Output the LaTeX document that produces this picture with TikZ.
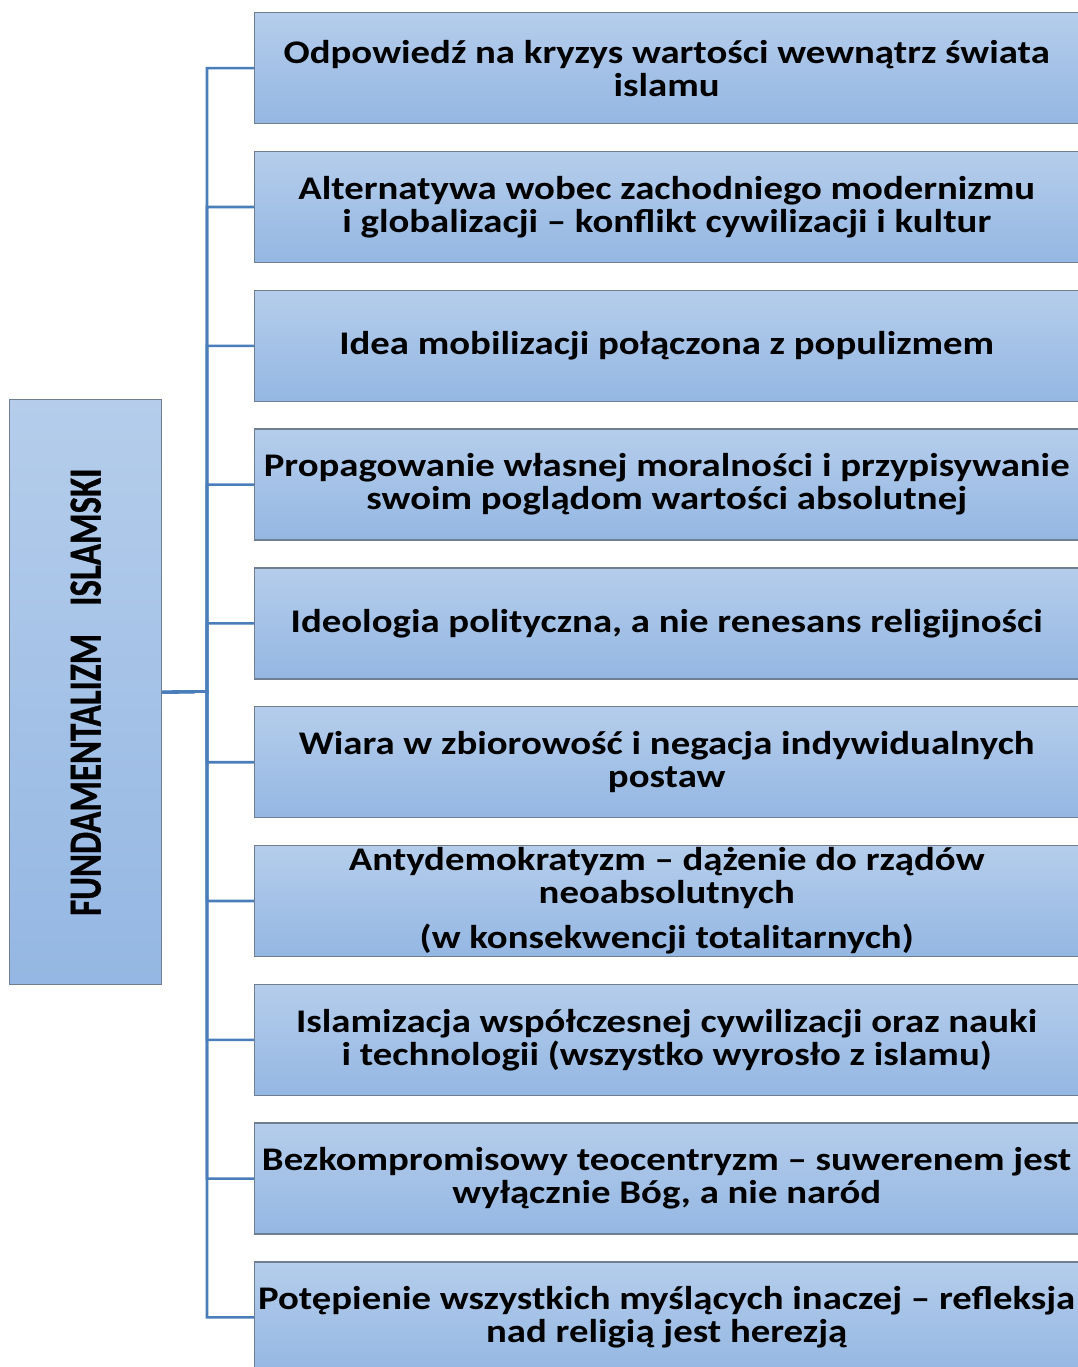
\documentclass[tikz,border=0pt]{standalone}
\usepackage{fontspec}
\setmainfont{Carlito}
\newfontfamily\itemfont[FakeStretch=1.175]{Carlito}
\newfontfamily\rootfont[FakeStretch=0.76,FakeBold=0.6]{Carlito}
\definecolor{boxtop}{RGB}{181,205,235}
\definecolor{boxbot}{RGB}{148,183,227}
\definecolor{boxedge}{RGB}{112,126,146}
\definecolor{linkblue}{RGB}{74,126,187}
\tikzset{
  itembox/.style={draw=boxedge, line width=1.4pt, top color=boxtop, bottom color=boxbot,
    minimum width=824pt, minimum height=111pt, inner sep=0pt, anchor=north west,
    align=center, font=\itemfont\bfseries\fontsize{33}{33}\selectfont},
  rootbox/.style={draw=boxedge, line width=1.4pt, top color=boxtop, bottom color=boxbot,
    minimum width=152pt, minimum height=585pt, inner sep=0pt, anchor=north west},
  link/.style={draw=linkblue, line width=2.6pt}
}
\begin{document}
\begin{tikzpicture}[x=1pt, y=-1pt]
\useasboundingbox (0,0) rectangle (1078,1367);
% root of the tree, text running bottom to top
\node[rootbox] (root) at (9,399)
  {\rotatebox{90}{\rootfont\bfseries\fontsize{46}{46}\selectfont FUNDAMENTALIZM\hspace{28pt}ISLAMSKI}};
\coordinate (spine) at (207,691.5);
% the ten features
\node[itembox] (b1) at (254,12) {Odpowiedź na kryzys wartości wewnątrz świata\\islamu};
\node[itembox] (b2) at (254,150.8) {Alternatywa wobec zachodniego modernizmu\\i globalizacji – konflikt cywilizacji i kultur};
\node[itembox] (b3) at (254,289.6) {Idea mobilizacji połączona z populizmem};
\node[itembox] (b4) at (254,428.4) {Propagowanie własnej moralności i przypisywanie\\swoim poglądom wartości absolutnej};
\node[itembox] (b5) at (254,567.2) {Ideologia polityczna, a nie renesans religijności};
\node[itembox] (b6) at (254,706) {Wiara w zbiorowość i negacja indywidualnych\\postaw};
\node[itembox] (b7) at (254,844.8) {Antydemokratyzm – dążenie do rządów\\neoabsolutnych\\[12pt](w konsekwencji totalitarnych)};
\node[itembox] (b8) at (254,983.6) {Islamizacja współczesnej cywilizacji oraz nauki\\i technologii (wszystko wyrosło z islamu)};
\node[itembox] (b9) at (254,1122.4) {Bezkompromisowy teocentryzm – suwerenem jest\\wyłącznie Bóg, a nie naród};
\node[itembox] (b10) at (254,1261.2) {Potępienie wszystkich myślących inaczej – refleksja\\nad religią jest herezją};
% connectors
\foreach \b in {b1,b2,b3,b4,b5,b6,b7,b8,b9,b10}
  \draw[link] (root.east) -- (spine) |- (\b.west);
\end{tikzpicture}
\end{document}
